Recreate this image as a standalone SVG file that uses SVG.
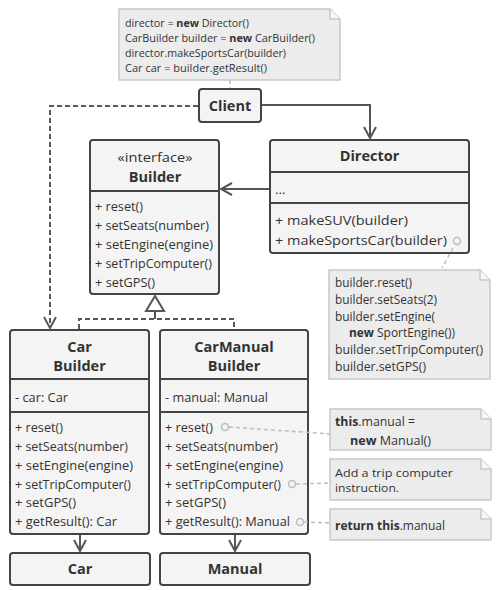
<svg xmlns="http://www.w3.org/2000/svg" width="500" height="590" viewBox="0 0 500 590">
<defs>
<style>
.box{fill:#f4f4f4;stroke:#444;stroke-width:2}
.div{stroke:#444;stroke-width:2}
.note{fill:#ececec;stroke:#c8c8c8;stroke-width:1.5}
.fold{fill:#f8f8f8;stroke:#c8c8c8;stroke-width:1.5;stroke-linejoin:round}
text{font-family:"Open Sans","Noto Sans",sans-serif;fill:#333}
.m{font-size:13.5px}
.b{font-size:14.5px;font-weight:bold}
.n{font-size:12px}
.t{font-size:11px}
.nb{font-weight:bold}
.c{text-anchor:middle}
.solid{fill:none;stroke:#555;stroke-width:2}
.dash{fill:none;stroke:#4e5e55;stroke-width:2;stroke-dasharray:5 3}
.ndash{fill:none;stroke:#bdbdbd;stroke-width:1.5;stroke-dasharray:4 3}
.dot{fill:#f4f4f4;stroke:#bdbdbd;stroke-width:1.5}
</style>
<marker id="open" markerWidth="14" markerHeight="14" refX="12" refY="7" orient="auto" markerUnits="userSpaceOnUse">
<path d="M1,1 L12,7 L1,13" fill="none" stroke="#555" stroke-width="2"/>
</marker>
<marker id="openg" markerWidth="14" markerHeight="14" refX="12" refY="7" orient="auto" markerUnits="userSpaceOnUse">
<path d="M1,1 L12,7 L1,13" fill="none" stroke="#4e5e55" stroke-width="2"/>
</marker>
</defs>
<rect width="500" height="590" fill="#fff"/>

<g id="note-client">
<path class="note" d="M119,9 L330,9 L340,19 L340,80 L119,80 Z"/>
<path class="fold" d="M330,9 L330,19 L340,19"/>
<text class="t" x="125" y="27" textLength="124" lengthAdjust="spacingAndGlyphs">director = <tspan class="nb">new</tspan> Director()</text>
<text class="t" x="125" y="42" textLength="190" lengthAdjust="spacingAndGlyphs">CarBuilder builder = <tspan class="nb">new</tspan> CarBuilder()</text>
<text class="t" x="125" y="57" textLength="161" lengthAdjust="spacingAndGlyphs">director.makeSportsCar(builder)</text>
<text class="t" x="125" y="72" textLength="142" lengthAdjust="spacingAndGlyphs">Car car = builder.getResult()</text>
</g>

<g id="client">
<rect class="box" x="199" y="89" width="62" height="33" rx="3"/>
<text class="b c" x="230" y="111">Client</text>
</g>

<g id="builder">
<rect class="box" x="90" y="140" width="129" height="154" rx="3"/>
<line class="div" x1="90" y1="191" x2="219" y2="191"/>
<text class="m c" x="155" y="162" textLength="75" lengthAdjust="spacingAndGlyphs">«interface»</text>
<text class="b c" x="155" y="182">Builder</text>
<text class="m" x="95" y="211" textLength="48" lengthAdjust="spacingAndGlyphs">+ reset()</text>
<text class="m" x="95" y="230" textLength="114" lengthAdjust="spacingAndGlyphs">+ setSeats(number)</text>
<text class="m" x="95" y="249" textLength="118" lengthAdjust="spacingAndGlyphs">+ setEngine(engine)</text>
<text class="m" x="95" y="268" textLength="117" lengthAdjust="spacingAndGlyphs">+ setTripComputer()</text>
<text class="m" x="95" y="287" textLength="60" lengthAdjust="spacingAndGlyphs">+ setGPS()</text>
</g>

<g id="director">
<rect class="box" x="270" y="140" width="199" height="113" rx="3"/>
<line class="div" x1="270" y1="172" x2="469" y2="172"/>
<line class="div" x1="270" y1="203" x2="469" y2="203"/>
<text class="b c" x="369.5" y="161">Director</text>
<text class="m" x="275" y="194">...</text>
<text class="m" x="275" y="225" textLength="133" lengthAdjust="spacingAndGlyphs">+ makeSUV(builder)</text>
<text class="m" x="275" y="245" textLength="172" lengthAdjust="spacingAndGlyphs">+ makeSportsCar(builder)</text>
</g>

<g id="note-director">
<path class="note" d="M329,270 L480,270 L490,280 L490,379 L329,379 Z"/>
<path class="fold" d="M480,270 L480,280 L490,280"/>
<text class="n" x="335" y="287" textLength="77" lengthAdjust="spacingAndGlyphs">builder.reset()</text>
<text class="n" x="335" y="304" textLength="102" lengthAdjust="spacingAndGlyphs">builder.setSeats(2)</text>
<text class="n" x="335" y="321" textLength="100" lengthAdjust="spacingAndGlyphs">builder.setEngine(</text>
<text class="n" x="349" y="337" textLength="106" lengthAdjust="spacingAndGlyphs"><tspan class="nb">new</tspan> SportEngine())</text>
<text class="n" x="335" y="354" textLength="148" lengthAdjust="spacingAndGlyphs">builder.setTripComputer()</text>
<text class="n" x="335" y="371" textLength="91" lengthAdjust="spacingAndGlyphs">builder.setGPS()</text>
</g>

<g id="car-builder">
<rect class="box" x="10" y="330" width="139" height="204" rx="3"/>
<line class="div" x1="10" y1="379" x2="149" y2="379"/>
<line class="div" x1="10" y1="412" x2="149" y2="412"/>
<text class="b c" x="79.5" y="352">Car</text>
<text class="b c" x="79.5" y="371">Builder</text>
<text class="m" x="15" y="402" textLength="53" lengthAdjust="spacingAndGlyphs">- car: Car</text>
<text class="m" x="15" y="432" textLength="48" lengthAdjust="spacingAndGlyphs">+ reset()</text>
<text class="m" x="15" y="451" textLength="113" lengthAdjust="spacingAndGlyphs">+ setSeats(number)</text>
<text class="m" x="15" y="470" textLength="118" lengthAdjust="spacingAndGlyphs">+ setEngine(engine)</text>
<text class="m" x="15" y="489" textLength="116" lengthAdjust="spacingAndGlyphs">+ setTripComputer()</text>
<text class="m" x="15" y="507" textLength="61" lengthAdjust="spacingAndGlyphs">+ setGPS()</text>
<text class="m" x="15" y="526" textLength="102" lengthAdjust="spacingAndGlyphs">+ getResult(): Car</text>
</g>

<g id="car-manual-builder">
<rect class="box" x="160" y="330" width="148" height="204" rx="3"/>
<line class="div" x1="160" y1="379" x2="308" y2="379"/>
<line class="div" x1="160" y1="412" x2="308" y2="412"/>
<text class="b c" x="234" y="352">CarManual</text>
<text class="b c" x="234" y="371">Builder</text>
<text class="m" x="165" y="402" textLength="103" lengthAdjust="spacingAndGlyphs">- manual: Manual</text>
<text class="m" x="165" y="432" textLength="48" lengthAdjust="spacingAndGlyphs">+ reset()</text>
<text class="m" x="165" y="451" textLength="113" lengthAdjust="spacingAndGlyphs">+ setSeats(number)</text>
<text class="m" x="165" y="470" textLength="118" lengthAdjust="spacingAndGlyphs">+ setEngine(engine)</text>
<text class="m" x="165" y="489" textLength="116" lengthAdjust="spacingAndGlyphs">+ setTripComputer()</text>
<text class="m" x="165" y="507" textLength="61" lengthAdjust="spacingAndGlyphs">+ setGPS()</text>
<text class="m" x="165" y="526" textLength="125" lengthAdjust="spacingAndGlyphs">+ getResult(): Manual</text>
</g>

<g id="note-reset">
<path class="note" d="M330,409 L481,409 L491,419 L491,450 L330,450 Z"/>
<path class="fold" d="M481,409 L481,419 L491,419"/>
<text class="n" x="335" y="426" textLength="80" lengthAdjust="spacingAndGlyphs"><tspan class="nb">this</tspan>.manual =</text>
<text class="n" x="350" y="445" textLength="81" lengthAdjust="spacingAndGlyphs"><tspan class="nb">new</tspan> Manual()</text>
</g>

<g id="note-trip">
<path class="note" d="M330,459 L481,459 L491,469 L491,500 L330,500 Z"/>
<path class="fold" d="M481,459 L481,469 L491,469"/>
<text class="t" x="335" y="477" textLength="118" lengthAdjust="spacingAndGlyphs">Add a trip computer</text>
<text class="t" x="335" y="492" textLength="64" lengthAdjust="spacingAndGlyphs">instruction.</text>
</g>

<g id="note-result">
<path class="note" d="M330,509 L481,509 L491,519 L491,540 L330,540 Z"/>
<path class="fold" d="M481,509 L481,519 L491,519"/>
<text class="n" x="335" y="530" textLength="110" lengthAdjust="spacingAndGlyphs"><tspan class="nb">return</tspan> <tspan class="nb">this</tspan>.manual</text>
</g>

<g id="car">
<rect class="box" x="10" y="553" width="140" height="32" rx="3"/>
<text class="b c" x="80" y="574">Car</text>
</g>

<g id="manual">
<rect class="box" x="160" y="553" width="150" height="32" rx="3"/>
<text class="b c" x="235" y="574">Manual</text>
</g>

<g id="connectors">
<path class="ndash" d="M230,80 L230,88"/>
<path class="dash" d="M198,106 L50,106 L50,328" marker-end="url(#openg)"/>
<path class="solid" d="M262,105 L370,105 L370,138" marker-end="url(#open)"/>
<path class="solid" d="M269,189 L221,189" marker-end="url(#open)"/>
<path d="M155,296 L146,311 L164,311 Z" fill="#fff" stroke="#555" stroke-width="2"/>
<path class="solid" d="M155,311 L155,319"/>
<path class="dash" d="M79,329 L79,319 L234,319 L234,329"/>
<path class="solid" d="M80,535 L80,551" marker-end="url(#open)"/>
<path class="solid" d="M235,535 L235,551" marker-end="url(#open)"/>
<circle class="dot" cx="457" cy="241" r="3.5"/>
<path class="ndash" d="M453,248 L442,268"/>
<circle class="dot" cx="225" cy="427" r="3.5"/>
<path class="ndash" d="M229,427 L330,434"/>
<circle class="dot" cx="292" cy="484" r="3.5"/>
<path class="ndash" d="M296,484 L330,483"/>
<circle class="dot" cx="300" cy="522" r="3.5"/>
<path class="ndash" d="M304,522 L330,523"/>
</g>
</svg>
